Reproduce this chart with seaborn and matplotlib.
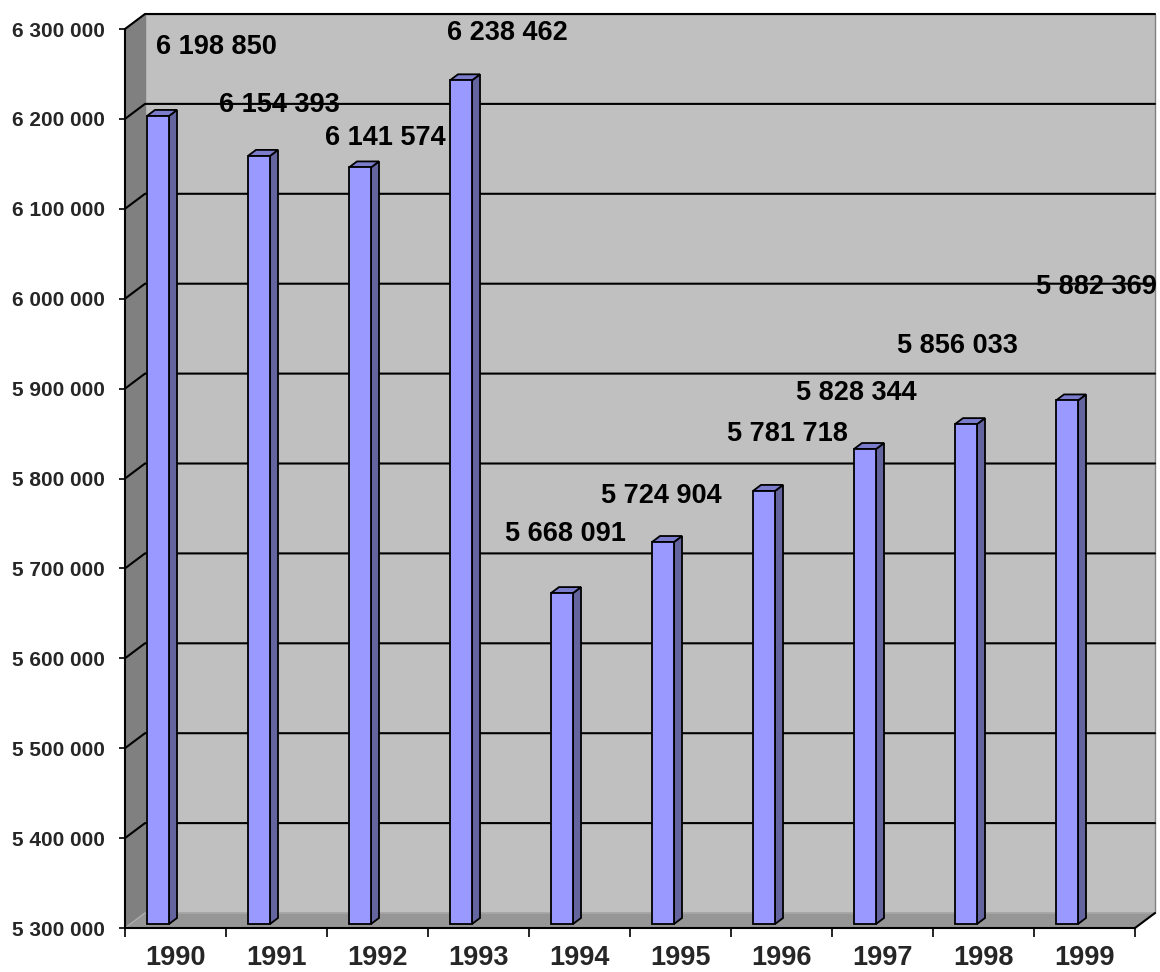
import numpy as np
import pandas as pd
import matplotlib.pyplot as plt
import seaborn as sns
from matplotlib.patches import Polygon
from matplotlib.transforms import ScaledTranslation
from matplotlib.ticker import FuncFormatter

# données
years = ['1990', '1991', '1992', '1993', '1994', '1995', '1996', '1997', '1998', '1999']
population = [6198850, 6154393, 6141574, 6238462, 5668091,
              5724904, 5781718, 5828344, 5856033, 5882369]
value_labels = ['6 198 850', '6 154 393', '6 141 574', '6 238 462', '5 668 091',
                '5 724 904', '5 781 718', '5 828 344', '5 856 033', '5 882 369']

# position des étiquettes (coordonnées des données)
label_x = [0.41, 1.03, 2.08, 3.29, 3.86, 4.81, 6.06, 6.74, 7.74, 9.12]
label_y = [6280500, 6216000, 6179200, 6296100, 5738500,
           5780800, 5849800, 5895400, 5947700, 6013400]

y_min, y_max, y_step = 5300000, 6300000, 100000

# effet 3D (pixels)
WALL_DX, WALL_DY = 20, 15
BAR_DX, BAR_DY = -17.5, 4
BOX_DX, BOX_DY = 8, 6

sns.set_style('white')
plt.rcParams['font.family'] = ['Liberation Sans', 'DejaVu Sans']
plt.rcParams['font.weight'] = 'bold'

fig = plt.figure(figsize=(11.6, 9.72), dpi=100)
ax = fig.add_axes([125 / 1160, 44 / 972, 1010 / 1160, 899 / 972])
ax.set_facecolor('none')

df = pd.DataFrame({'year': years, 'population': population})
sns.barplot(data=df, x='year', y='population', width=0.218, color='#9999FF',
            saturation=1, edgecolor='black', linewidth=1.3, ax=ax, zorder=5)

ax.set_xlim(-0.5, len(years) - 0.5)
ax.set_ylim(y_min, y_max)
yticks = np.arange(y_min, y_max + 1, y_step)
ax.set_yticks(yticks)
ax.yaxis.set_major_formatter(FuncFormatter(lambda v, p: f"{int(v):,}".replace(',', ' ')))
ax.set_xlabel('')
ax.set_ylabel('')


def fxy(xd, yd, dx=0, dy=0):
    d = ax.transData.transform((xd, yd)) + np.array([dx, dy])
    return fig.transFigure.inverted().transform(d)


def poly(pts, **kw):
    ax.add_patch(Polygon(pts, closed=True, transform=fig.transFigure, clip_on=False, **kw))


x0, x1 = -0.5, len(years) - 0.5

# murs
poly([fxy(x0, y_min, WALL_DX, WALL_DY), fxy(x1, y_min, WALL_DX, WALL_DY),
      fxy(x1, y_max, WALL_DX, WALL_DY), fxy(x0, y_max, WALL_DX, WALL_DY)],
     facecolor='#C0C0C0', edgecolor='#808080', linewidth=1, zorder=0)
poly([fxy(x0, y_min), fxy(x0, y_max), fxy(x0, y_max, WALL_DX, WALL_DY),
      fxy(x0, y_min, WALL_DX, WALL_DY)],
     facecolor='#808080', edgecolor='#808080', linewidth=1, zorder=0)
poly([fxy(x0, y_min), fxy(x1, y_min), fxy(x1, y_min, WALL_DX, WALL_DY),
      fxy(x0, y_min, WALL_DX, WALL_DY)],
     facecolor='#969696', edgecolor='#969696', linewidth=1, zorder=0.5)

# quadrillage
for v in yticks:
    a = fxy(x0, v)
    b = fxy(x0, v, WALL_DX, WALL_DY)
    c = fxy(x1, v, WALL_DX, WALL_DY)
    if v == y_min:
        col, lw = '#B0B0B0', 0.8
    else:
        col, lw = 'black', 1.5
    ax.add_line(plt.Line2D([a[0], b[0], c[0]], [a[1], b[1], c[1]], transform=fig.transFigure,
                           color=col, linewidth=lw, clip_on=False, zorder=1))

# arête droite du sol
a = fxy(x1, y_min)
b = fxy(x1, y_min, WALL_DX, WALL_DY)
ax.add_line(plt.Line2D([a[0], b[0]], [a[1], b[1]], transform=fig.transFigure,
                       color='black', linewidth=1.5, clip_on=False, zorder=2))

# barres en 3D
shift = ax.transData + ScaledTranslation(BAR_DX / 100, BAR_DY / 100, fig.dpi_scale_trans)
for p, val in zip(ax.patches[:len(years)], population):
    p.set_y(y_min)
    p.set_height(val - y_min)
    p.set_transform(shift)
    p.set_clip_on(False)
    xl, xr = p.get_x(), p.get_x() + p.get_width()
    side = [fxy(xr, y_min, BAR_DX, BAR_DY), fxy(xr, val, BAR_DX, BAR_DY),
            fxy(xr, val, BAR_DX + BOX_DX, BAR_DY + BOX_DY),
            fxy(xr, y_min, BAR_DX + BOX_DX, BAR_DY + BOX_DY)]
    top = [fxy(xl, val, BAR_DX, BAR_DY), fxy(xr, val, BAR_DX, BAR_DY),
           fxy(xr, val, BAR_DX + BOX_DX, BAR_DY + BOX_DY),
           fxy(xl, val, BAR_DX + BOX_DX, BAR_DY + BOX_DY)]
    poly(side, facecolor='#64649E', edgecolor='black', linewidth=1.3, zorder=4)
    poly(top, facecolor='#7C7CCC', edgecolor='black', linewidth=1.3, zorder=4)

# étiquettes de valeurs
for tx, ty, t in zip(label_x, label_y, value_labels):
    ax.text(tx, ty, t, ha='center', va='center', fontsize=19.5, fontweight='bold',
            color='black', zorder=10, clip_on=False)

# axes
sns.despine(ax=ax, top=True, right=True)
for s in ['left', 'bottom']:
    ax.spines[s].set_color('black')
    ax.spines[s].set_linewidth(1.5)
    ax.spines[s].set_zorder(6)

ax.tick_params(axis='y', which='major', direction='out', length=4.3, width=1.2,
               color='black', left=True, pad=10, labelsize=15)
ax.set_xticks(np.arange(-0.5, len(years)), minor=True)
ax.tick_params(axis='x', which='minor', direction='out', length=6.5, width=1.2,
               color='black', bottom=True)
ax.tick_params(axis='x', which='major', length=0, pad=12, labelsize=19.5)
for lab in ax.get_xticklabels() + ax.get_yticklabels():
    lab.set_fontweight('bold')

fig.savefig('out.png', dpi=100, facecolor='white')
